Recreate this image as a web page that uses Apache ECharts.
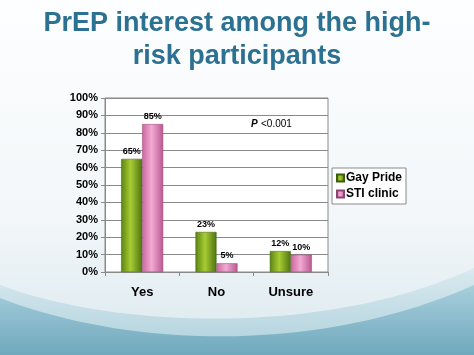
<!DOCTYPE html>
<html><head><meta charset="utf-8">
<script src="https://cdn.jsdelivr.net/npm/echarts@6/dist/echarts.min.js"></script>
<style>html,body{margin:0;padding:0;background:#fff}#c{width:474px;height:355px}</style>
</head><body><div id="c"></div>
<script>
var categories = ['Yes', 'No', 'Unsure'];
var gayPride = [65, 23, 12];
var stiClinic = [85, 5, 10];
var yTicks = [0, 10, 20, 30, 40, 50, 60, 70, 80, 90, 100];
var seriesNames = ['Gay Pride', 'STI clinic'];

var chart = echarts.init(document.getElementById('c'));
function hgrad(a, b, c) {
  return new echarts.graphic.LinearGradient(0, 0, 1, 0, [
    {offset: 0, color: a}, {offset: 0.45, color: b}, {offset: 1, color: c}]);
}
// decorative background wave (cubic bezier sampled to polygon)
function wave(p0, p1, p2, p3) {
  var pts = [];
  for (var i = 0; i <= 40; i++) {
    var t = i / 40, u = 1 - t;
    pts.push([
      u*u*u*p0[0] + 3*u*u*t*p1[0] + 3*u*t*t*p2[0] + t*t*t*p3[0],
      u*u*u*p0[1] + 3*u*u*t*p1[1] + 3*u*t*t*p2[1] + t*t*t*p3[1]
    ]);
  }
  pts.push([474, 355]); pts.push([0, 355]);
  return pts;
}
var font = 'Liberation Sans, Arial, sans-serif';
chart.setOption({
  backgroundColor: 'transparent',
  animation: false,
  graphic: [
    {type: 'rect', z: -10, shape: {x: 0, y: 0, width: 474, height: 355},
     style: {fill: new echarts.graphic.LinearGradient(0, 0, 0, 1, [
       {offset: 0, color: '#fdfeff'}, {offset: 0.6, color: '#f3f7f9'}, {offset: 1, color: '#dbe9ef'}])}},
    {type: 'polygon', z: -9, shape: {points: wave([0, 285], [120, 330], [330, 335], [474, 268])},
     style: {fill: new echarts.graphic.LinearGradient(0, 0, 0, 1, [
       {offset: 0, color: '#d9e9ef'}, {offset: 1, color: '#aed1dc'}])}},
    {type: 'polygon', z: -8, shape: {points: wave([0, 298], [140, 352], [330, 350], [474, 285])},
     style: {fill: new echarts.graphic.LinearGradient(0, 0, 0, 1, [
       {offset: 0, color: '#a8cfdc'}, {offset: 1, color: '#6fa8bd'}])}},
    {type: 'rect', z: -1, shape: {x: 105, y: 98, width: 223, height: 174},
     style: {fill: '#ffffff', stroke: '#8a8a8a', lineWidth: 1}},
    {type: 'text', left: 251, top: 118, z: 10,
     style: {text: '{i|P} {n|<0.001}', rich: {
       i: {fontStyle: 'italic', fontWeight: 'bold', fontSize: 10, fontFamily: font, fill: '#000'},
       n: {fontSize: 10, fontFamily: font, fill: '#000'}}}}
  ],
  title: {
    text: 'PrEP interest among the high-\nrisk participants',
    left: 'center', top: 2,
    textStyle: {color: '#2c7191', fontSize: 27, fontWeight: 'bold', fontFamily: font, lineHeight: 33}
  },
  legend: {
    orient: 'vertical', left: 332, top: 168,
    data: seriesNames,
    itemWidth: 7, itemHeight: 7, itemGap: 4,
    padding: [4, 4, 4, 4],
    backgroundColor: '#ffffff', borderColor: '#8a8a8a', borderWidth: 1, borderRadius: 0,
    textStyle: {fontSize: 12, fontWeight: 'bold', fontFamily: font, color: '#000', padding: [0, 0, 0, -3]},
    icon: 'rect'
  },
  grid: {left: 105, right: 146, top: 98, bottom: 83, containLabel: false},
  xAxis: {
    type: 'category', data: categories,
    axisLine: {lineStyle: {color: '#8a8a8a'}},
    axisTick: {show: true, length: 4, lineStyle: {color: '#8a8a8a'}},
    axisLabel: {fontSize: 13, fontWeight: 'bold', fontFamily: font, color: '#000', margin: 14}
  },
  yAxis: {
    type: 'value', min: 0, max: 100, interval: 10,
    axisLine: {show: true, lineStyle: {color: '#8a8a8a'}},
    axisTick: {show: true, length: 4, lineStyle: {color: '#8a8a8a'}},
    splitLine: {lineStyle: {color: '#8a8a8a'}},
    axisLabel: {fontSize: 11, fontWeight: 'bold', fontFamily: font, color: '#000', margin: 7,
      formatter: function (v) { return yTicks.indexOf(v) >= 0 ? v + '%' : ''; }}
  },
  series: [
    {name: seriesNames[0], type: 'bar', data: gayPride, barWidth: 21, barGap: '0%',
     itemStyle: {color: hgrad('#5b8412', '#a8cc33', '#4e7310'), borderColor: '#3f5e0c', borderWidth: 0.5},
     label: {show: true, position: 'top', formatter: '{c}%', fontSize: 9, fontWeight: 'bold', fontFamily: font, color: '#000', distance: 3}},
    {name: seriesNames[1], type: 'bar', data: stiClinic, barWidth: 21,
     itemStyle: {color: hgrad('#c9679f', '#f3a9d2', '#b85990'), borderColor: '#8e4470', borderWidth: 0.5},
     label: {show: true, position: 'top', formatter: '{c}%', fontSize: 9, fontWeight: 'bold', fontFamily: font, color: '#000', distance: 3}}
  ],
  color: ['#8ab523', '#e891c4']
});
</script></body></html>
